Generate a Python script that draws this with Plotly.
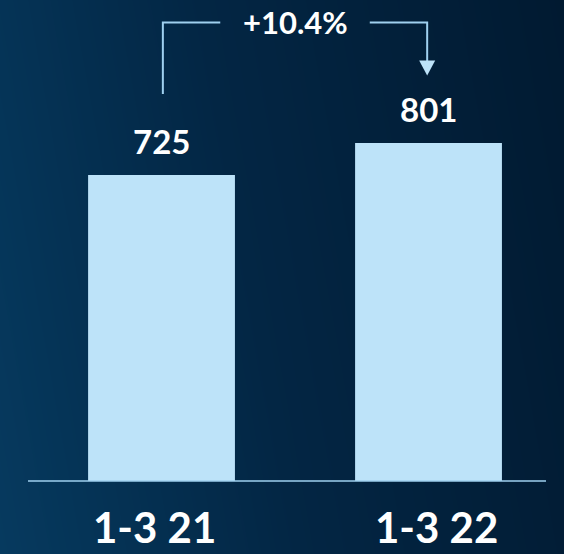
import plotly.graph_objects as go
import numpy as np

# Quarterly totals
categories = ["1-3 21", "1-3 22"]
values = [725, 801]
change_label = "+10.4%"

W, H = 564, 554
bar_color = "#bde3f9"
line_color = "#9fd0ef"
font_family = "Lato, 'Open Sans', sans-serif"

# Axis ranges (plot area spans the whole page)
x_lo, x_hi = -0.605, 1.5075
y_lo, y_hi = -173.0, 1139.6

fig = go.Figure()

# Dark navy backdrop, lighter on the left and fading to the right
nx, ny = 60, 30
gx = np.linspace(x_lo, x_hi, nx)
gy = np.linspace(y_lo, y_hi, ny)
fx = np.linspace(0, 1, nx)
fy = np.linspace(0, 1, ny)
z = np.clip(0.85 * fx[None, :] + 0.15 * (fy[:, None]), 0, 1)
fig.add_trace(go.Heatmap(
    x=gx, y=gy, z=z, zmin=0, zmax=1,
    colorscale=[[0, "#063a5f"], [0.45, "#032644"], [1, "#011a31"]],
    showscale=False, hoverinfo="skip", zsmooth="best",
))

fig.add_trace(go.Bar(
    x=[0, 1], y=values, width=0.55,
    marker=dict(color=bar_color, line=dict(width=0)),
    hoverinfo="skip",
))

# Value labels above the bars
for i, v in enumerate(values):
    fig.add_annotation(x=i, y=v, text=f"<b>{v}</b>", showarrow=False,
                       font=dict(family=font_family, size=33, color="white"),
                       xanchor="center", yanchor="bottom", yshift=12)

# Baseline
fig.add_shape(type="line", xref="paper", yref="y", x0=28 / W, x1=546 / W,
              y0=0, y1=0, line=dict(color=line_color, width=1.5))

# Category labels under the bars
for i, c in enumerate(categories):
    fig.add_annotation(x=i, y=-110, text=f"<b>{c}</b>", showarrow=False,
                       font=dict(family=font_family, size=42, color="white"),
                       xanchor="center", yanchor="middle",
                       xshift=-7 if i == 0 else 8)

# Change bracket from the first bar to the second
y_top = values[1] + 285
y_start = values[0] + 192
arrow_tip = values[1] + 160
fig.add_shape(type="path",
              path=f"M 0.005,{y_start} L 0.005,{y_top} L 0.22,{y_top}",
              line=dict(color=line_color, width=2))
fig.add_shape(type="path",
              path=f"M 0.78,{y_top} L 0.995,{y_top} L 0.995,{arrow_tip + 30}",
              line=dict(color=line_color, width=2))
fig.add_shape(type="path",
              path=f"M 0.965,{arrow_tip + 35} L 1.025,{arrow_tip + 35} L 0.995,{arrow_tip} Z",
              fillcolor=bar_color, line=dict(color=bar_color, width=0))
fig.add_annotation(x=0.5, y=y_top, text=f"<b>{change_label}</b>", showarrow=False,
                   font=dict(family=font_family, size=31, color="white"),
                   xanchor="center", yanchor="middle", yshift=1)

fig.update_layout(
    width=W, height=H,
    margin=dict(l=0, r=0, t=0, b=0),
    paper_bgcolor="#021c33", plot_bgcolor="#021c33",
    showlegend=False,
    xaxis=dict(range=[x_lo, x_hi], visible=False, fixedrange=True),
    yaxis=dict(range=[y_lo, y_hi], visible=False, fixedrange=True),
)

fig.write_html("out.html", config={"displayModeBar": False})
